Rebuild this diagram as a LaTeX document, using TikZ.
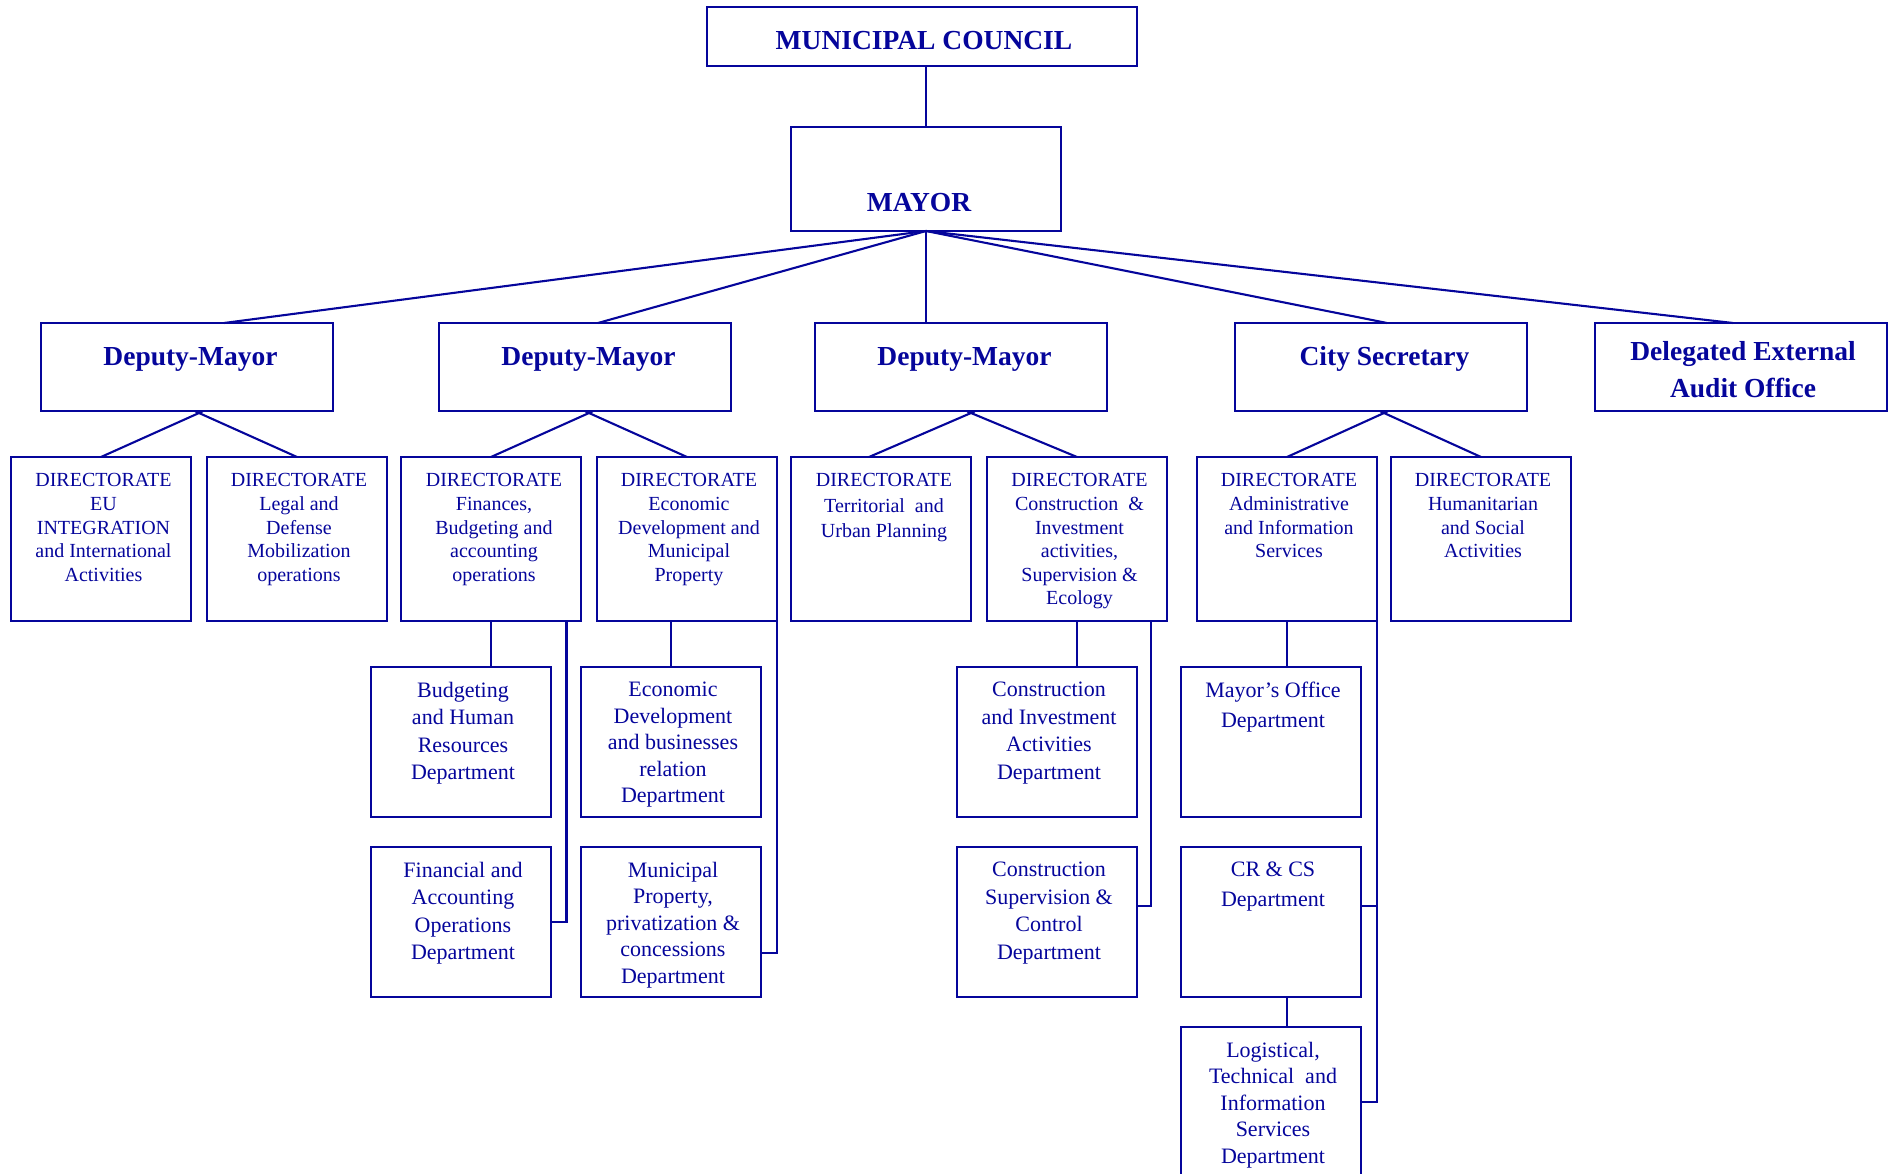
\documentclass[tikz,border=0pt]{standalone}
\usepackage{fontspec}
\setmainfont{Liberation Serif}
\definecolor{orgblue}{RGB}{5,5,155}

% one framed box from its top-left to its bottom-right corner
\newcommand\orgbox[5]{%
  \node[orgframe, anchor=north west,
        minimum width={(#4)-(#2)}, minimum height={(#5)-(#3)}] (#1) at (#2,#3) {};}

\begin{document}
\begin{tikzpicture}[x=1pt,y=-1pt,
  orgframe/.style={draw=orgblue, line width=2.2pt, rectangle, inner sep=0pt, outer sep=0pt},
  link/.style={draw=orgblue, line width=2.1pt},
  headtext/.style={text=orgblue, inner sep=0pt, align=center,
                   font=\fontsize{27.5}{37}\selectfont\bfseries},
  dirtext/.style={text=orgblue, inner sep=0pt, align=center,
                  font=\fontsize{20}{23.6}\selectfont},
  depttext/.style={text=orgblue, inner sep=0pt, align=center,
                   font=\fontsize{22}{27.5}\selectfont},
  deptfive/.style={depttext, font=\fontsize{22}{26.5}\selectfont},
  depttwo/.style={depttext, font=\fontsize{22}{30}\selectfont},
]
\useasboundingbox (0,0) rectangle (1894,1174);
\clip (0,0) rectangle (1894,1174);

% ---- top of the hierarchy
\orgbox{council}{707}{7}{1137}{66}
\orgbox{mayor}{791}{127}{1061}{231}

% ---- deputies, secretary, audit
\orgbox{dm1}{41}{323}{333}{411}
\orgbox{dm2}{439}{323}{731}{411}
\orgbox{dm3}{815}{323}{1107}{411}
\orgbox{citysec}{1235}{323}{1527}{411}
\orgbox{audit}{1595}{323}{1887}{411}

% ---- directorates
\orgbox{eu}{11}{457}{191}{621}
\orgbox{legal}{207}{457}{387}{621}
\orgbox{fin}{401}{457}{581}{621}
\orgbox{econ}{597}{457}{777}{621}
\orgbox{terr}{791}{457}{971}{621}
\orgbox{constr}{987}{457}{1167}{621}
\orgbox{admin}{1197}{457}{1377}{621}
\orgbox{human}{1391}{457}{1571}{621}

% ---- departments
\orgbox{budg}{371}{667}{551}{817}
\orgbox{finacc}{371}{847}{551}{997}
\orgbox{econdev}{581}{667}{761}{817}
\orgbox{munprop}{581}{847}{761}{997}
\orgbox{consinv}{957}{667}{1137}{817}
\orgbox{conssup}{957}{847}{1137}{997}
\orgbox{mayoff}{1181}{667}{1361}{817}
\orgbox{crcs}{1181}{847}{1361}{997}
\orgbox{logist}{1181}{1027}{1361}{1190}

% ---- titles
\node[headtext, anchor=base] (council-t) at (924,49.5) {MUNICIPAL COUNCIL};
\node[headtext, anchor=base] (mayor-t) at (919,212) {MAYOR};
\node[headtext, anchor=base] (dm1-t) at (190.5,365) {Deputy-Mayor};
\node[headtext, anchor=base] (dm2-t) at (588.5,365) {Deputy-Mayor};
\node[headtext, anchor=base] (dm3-t) at (964.5,365) {Deputy-Mayor};
\node[headtext, anchor=base] (citysec-t) at (1384.5,365) {City Secretary};
\node[headtext, anchor=north] (audit-t) at (1743,341.5) {Delegated External\\Audit Office};

% ---- directorate texts
\node[dirtext, anchor=north] (eu-t) at (103.5,473.5)
  {DIRECTORATE\\EU\\INTEGRATION\\and International\\Activities};
\node[dirtext, anchor=north] (legal-t) at (299,473.5)
  {DIRECTORATE\\Legal and\\Defense\\Mobilization\\operations};
\node[dirtext, anchor=north] (fin-t) at (494,473.5)
  {DIRECTORATE\\Finances,\\Budgeting and\\accounting\\operations};
\node[dirtext, anchor=north] (econ-t) at (689,473.5)
  {DIRECTORATE\\Economic\\Development and\\Municipal\\Property};
\node[dirtext, anchor=north, font=\fontsize{20}{25.5}\selectfont] (terr-t) at (884,473.5)
  {DIRECTORATE\\Territorial\ \ and\\Urban Planning};
\node[dirtext, anchor=north] (constr-t) at (1079.5,473.5)
  {DIRECTORATE\\Construction\ \ \&\\Investment\\activities,\\Supervision \&\\Ecology};
\node[dirtext, anchor=north] (admin-t) at (1289,473.5)
  {DIRECTORATE\\Administrative\\and Information\\Services};
\node[dirtext, anchor=north] (human-t) at (1483,473.5)
  {DIRECTORATE\\Humanitarian\\and Social\\Activities};

% ---- department texts
\node[depttext, anchor=north] (budg-t) at (463,682)
  {Budgeting\\and Human\\Resources\\Department};
\node[depttext, anchor=north] (finacc-t) at (463,862)
  {Financial and\\Accounting\\Operations\\Department};
\node[deptfive, anchor=north] (econdev-t) at (673,682)
  {Economic\\Development\\and businesses\\relation\\Department};
\node[deptfive, anchor=north] (munprop-t) at (673,862)
  {Municipal\\Property,\\privatization \&\\concessions\\Department};
\node[depttext, anchor=north] (consinv-t) at (1049,682)
  {Construction\\and Investment\\Activities\\Department};
\node[depttext, anchor=north] (conssup-t) at (1049,862)
  {Construction\\Supervision \&\\Control\\Department};
\node[depttwo, anchor=north] (mayoff-t) at (1273,682)
  {Mayor's Office\\Department};
\node[depttwo, anchor=north] (crcs-t) at (1273,862)
  {CR \& CS\\Department};
\node[deptfive, anchor=north] (logist-t) at (1273,1042)
  {Logistical,\\Technical\ \ and\\Information\\Services\\Department};

% ---- council to mayor, mayor to the second row
\draw[link] (mayor.north) -- (mayor.north |- council.south);
\draw[link] (mayor.south) -- ([xshift=37pt]dm1.north);
\draw[link] (mayor.south) -- ([xshift=13pt]dm2.north);
\draw[link] (mayor.south) -- (mayor.south |- dm3.north);
\draw[link] (mayor.south) -- ([xshift=6pt]citysec.north);
\draw[link] (mayor.south) -- ([xshift=-8pt]audit.north);

% ---- branching points under the second row
\coordinate (dm1-v) at ([xshift=12pt,yshift=-2pt]dm1.south);
\coordinate (dm2-v) at ([xshift=4pt,yshift=-2pt]dm2.south);
\coordinate (dm3-v) at ([xshift=10pt,yshift=-2pt]dm3.south);
\coordinate (citysec-v) at ([xshift=3pt,yshift=-2pt]citysec.south);

\begin{scope}[shorten >=-4pt]
\draw[link] (eu.north) -- (dm1-v);
\draw[link] (legal.north) -- (dm1-v);
\draw[link] (fin.north) -- (dm2-v);
\draw[link] (econ.north) -- (dm2-v);
\draw[link] ([xshift=-12pt]terr.north) -- (dm3-v);
\draw[link] (constr.north) -- (dm3-v);
\draw[link] (admin.north) -- (citysec-v);
\draw[link] (human.north) -- (citysec-v);
\end{scope}

% ---- directorates to departments
\draw[link] (fin.south) -- (fin.south |- budg.north);
\draw[link] ([xshift=-14.5pt]fin.south east) |- (finacc.east);
\draw[link] ([xshift=-16pt]econ.south) -- ([xshift=-16pt]econ.south |- econdev.north);
\draw[link] (econ.south east) |- ([yshift=-31pt]munprop.east);
\draw[link] (constr.south) -- (constr.south |- consinv.north);
\draw[link] ([xshift=-16.3pt]constr.south east) |- ([yshift=16pt]conssup.east);
\draw[link] (admin.south) -- (admin.south |- mayoff.north);
\draw[link] (admin.south east) |- ([yshift=-75pt]logist.north east);
\draw[link] ([yshift=16pt]crcs.east) -- ([yshift=16pt]crcs.east -| admin.south east);
\draw[link] ([xshift=16pt]crcs.south) -- ([xshift=16pt]logist.north);
\end{tikzpicture}
\end{document}
